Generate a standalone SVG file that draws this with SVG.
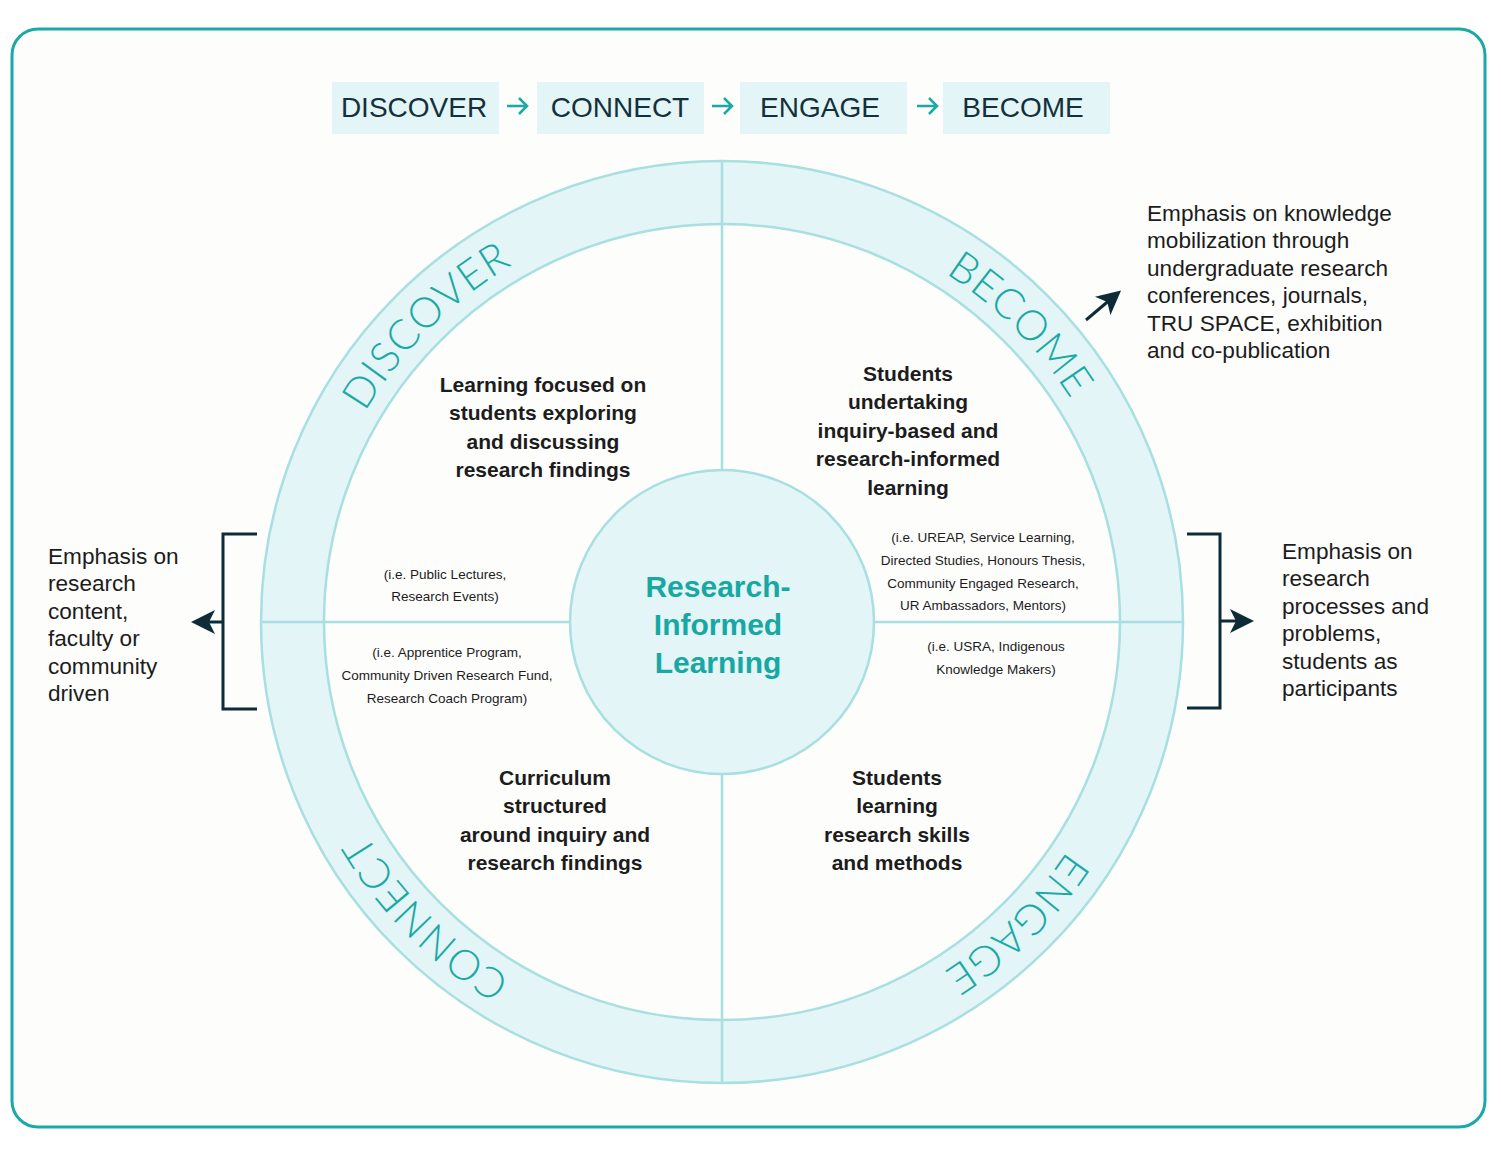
<svg xmlns="http://www.w3.org/2000/svg" width="1501" height="1159" viewBox="0 0 1501 1159">
<style>
.hdr{fill:#e3f5f6}
.hdrt{font-family:"Liberation Sans",Arial,sans-serif;font-size:28px;fill:#13303d;text-anchor:middle}
.ring{fill:#e3f5f6;stroke:#a8dfe0;stroke-width:2.5}
.qline{stroke:#a8dfe0;stroke-width:2.5;fill:none}
.arc{font-family:"Lato","Open Sans",sans-serif;font-weight:300;font-size:42px;fill:#1aa9a5;letter-spacing:1px}
.qt{font-family:"Liberation Sans",Arial,sans-serif;font-weight:bold;font-size:21px;fill:#1c1c1c;text-anchor:middle}
.sm{font-family:"Liberation Sans",Arial,sans-serif;font-size:13.5px;fill:#1c1c1c;text-anchor:middle}
.side{font-family:"Liberation Sans",Arial,sans-serif;font-size:22.6px;fill:#1c1c1c}
.ctr{font-family:"Liberation Sans",Arial,sans-serif;font-weight:bold;font-size:30px;fill:#18a8a4;text-anchor:middle}
.dk{stroke:#0e2c38;stroke-width:3;fill:none}
.tealarrow{stroke:#1aa9a5;stroke-width:2.5;fill:none}
</style>
<defs>
<marker id="ahb" viewBox="0 0 12 12" refX="10" refY="6" markerWidth="24" markerHeight="24" markerUnits="userSpaceOnUse" orient="auto">
<path d="M0,0 L12,6 L0,12 L3,6 Z" fill="#0e2c38"/>
</marker>
<path id="circ" d="M 1136 622 A 414 414 0 1 1 308 622 A 414 414 0 1 1 1136 622"/>
</defs>

<rect x="0" y="0" width="1501" height="1159" fill="#ffffff"/>
<rect id="frame" x="12" y="29" width="1473" height="1098" rx="26" ry="26" fill="#fdfdfc" stroke="#1aa9a5" stroke-width="3"/>

<g id="header">
<g id="h-discover"><rect class="hdr" x="332" y="82" width="167" height="52"/><text class="hdrt" x="414" y="117">DISCOVER</text></g>
<g id="h-connect"><rect class="hdr" x="537" y="82" width="167" height="52"/><text class="hdrt" x="620" y="117">CONNECT</text></g>
<g id="h-engage"><rect class="hdr" x="740" y="82" width="167" height="52"/><text class="hdrt" x="820" y="117">ENGAGE</text></g>
<g id="h-become"><rect class="hdr" x="943" y="82" width="167" height="52"/><text class="hdrt" x="1023" y="117">BECOME</text></g>
</g>

<g id="wheel">
<circle class="ring" cx="722" cy="622" r="461"/>
<circle cx="722" cy="622" r="398" fill="#fdfdfc" stroke="#a8dfe0" stroke-width="2.5"/>
</g>

<g id="connectors">
<path class="tealarrow" d="M507,106 H527 M519,98 L527,106 L519,114"/>
<path class="tealarrow" d="M712,106 H732 M724,98 L732,106 L724,114"/>
<path class="tealarrow" d="M917,106 H937 M929,98 L937,106 L929,114"/>
<line class="qline" x1="722" y1="161" x2="722" y2="470"/>
<line class="qline" x1="722" y1="775" x2="722" y2="1083"/>
<line class="qline" x1="261" y1="622" x2="570" y2="622"/>
<line class="qline" x1="874" y1="622" x2="1183" y2="622"/>
<path class="dk" d="M257,534 H223 V709 H257"/>
<path class="dk" d="M223,622 H195" marker-end="url(#ahb)"/>
<path class="dk" d="M1187,534 H1220 V708 H1187"/>
<path class="dk" d="M1220,621 H1250" marker-end="url(#ahb)"/>
<path class="dk" d="M1086,320 L1118,293" marker-end="url(#ahb)"/>
</g>

<g id="arc-labels">
<text class="arc"><textPath href="#circ" startOffset="1625.8" text-anchor="middle">DISCOVER</textPath></text>
<text class="arc"><textPath href="#circ" startOffset="2276.1" text-anchor="middle">BECOME</textPath></text>
<text class="arc"><textPath href="#circ" startOffset="975.5" text-anchor="middle">CONNECT</textPath></text>
<text class="arc"><textPath href="#circ" startOffset="330" text-anchor="middle">ENGAGE</textPath></text>
</g>

<g id="center">
<circle class="ring" cx="722" cy="622" r="152"/>
<text class="ctr" x="718"><tspan x="718" y="597">Research-</tspan><tspan x="718" y="635">Informed</tspan><tspan x="718" y="673">Learning</tspan></text>
</g>

<g id="q-discover">
<text class="qt"><tspan x="543" y="392">Learning focused on</tspan><tspan x="543" y="420">students exploring</tspan><tspan x="543" y="449">and discussing</tspan><tspan x="543" y="477">research findings</tspan></text>
<text class="sm"><tspan x="445" y="579">(i.e. Public Lectures,</tspan><tspan x="445" y="601">Research Events)</tspan></text>
</g>

<g id="q-become">
<text class="qt"><tspan x="908" y="381">Students</tspan><tspan x="908" y="409">undertaking</tspan><tspan x="908" y="438">inquiry-based and</tspan><tspan x="908" y="466">research-informed</tspan><tspan x="908" y="495">learning</tspan></text>
<text class="sm"><tspan x="983" y="542">(i.e. UREAP, Service Learning,</tspan><tspan x="983" y="565">Directed Studies, Honours Thesis,</tspan><tspan x="983" y="588">Community Engaged Research,</tspan><tspan x="983" y="610">UR Ambassadors, Mentors)</tspan></text>
</g>

<g id="q-connect">
<text class="qt"><tspan x="555" y="785">Curriculum</tspan><tspan x="555" y="813">structured</tspan><tspan x="555" y="842">around inquiry and</tspan><tspan x="555" y="870">research findings</tspan></text>
<text class="sm"><tspan x="447" y="657">(i.e. Apprentice Program,</tspan><tspan x="447" y="680">Community Driven Research Fund,</tspan><tspan x="447" y="703">Research Coach Program)</tspan></text>
</g>

<g id="q-engage">
<text class="qt"><tspan x="897" y="785">Students</tspan><tspan x="897" y="813">learning</tspan><tspan x="897" y="842">research skills</tspan><tspan x="897" y="870">and methods</tspan></text>
<text class="sm"><tspan x="996" y="651">(i.e. USRA, Indigenous</tspan><tspan x="996" y="674">Knowledge Makers)</tspan></text>
</g>

<g id="left-note">
<text class="side"><tspan x="48" y="564">Emphasis on</tspan><tspan x="48" y="591">research</tspan><tspan x="48" y="619">content,</tspan><tspan x="48" y="646">faculty or</tspan><tspan x="48" y="674">community</tspan><tspan x="48" y="701">driven</tspan></text>
</g>

<g id="right-note">
<text class="side"><tspan x="1282" y="559">Emphasis on</tspan><tspan x="1282" y="586">research</tspan><tspan x="1282" y="614">processes and</tspan><tspan x="1282" y="641">problems,</tspan><tspan x="1282" y="669">students as</tspan><tspan x="1282" y="696">participants</tspan></text>
</g>

<g id="top-note">
<text class="side"><tspan x="1147" y="221">Emphasis on knowledge</tspan><tspan x="1147" y="248">mobilization through</tspan><tspan x="1147" y="276">undergraduate research</tspan><tspan x="1147" y="303">conferences, journals,</tspan><tspan x="1147" y="331">TRU SPACE, exhibition</tspan><tspan x="1147" y="358">and co-publication</tspan></text>
</g>
</svg>
